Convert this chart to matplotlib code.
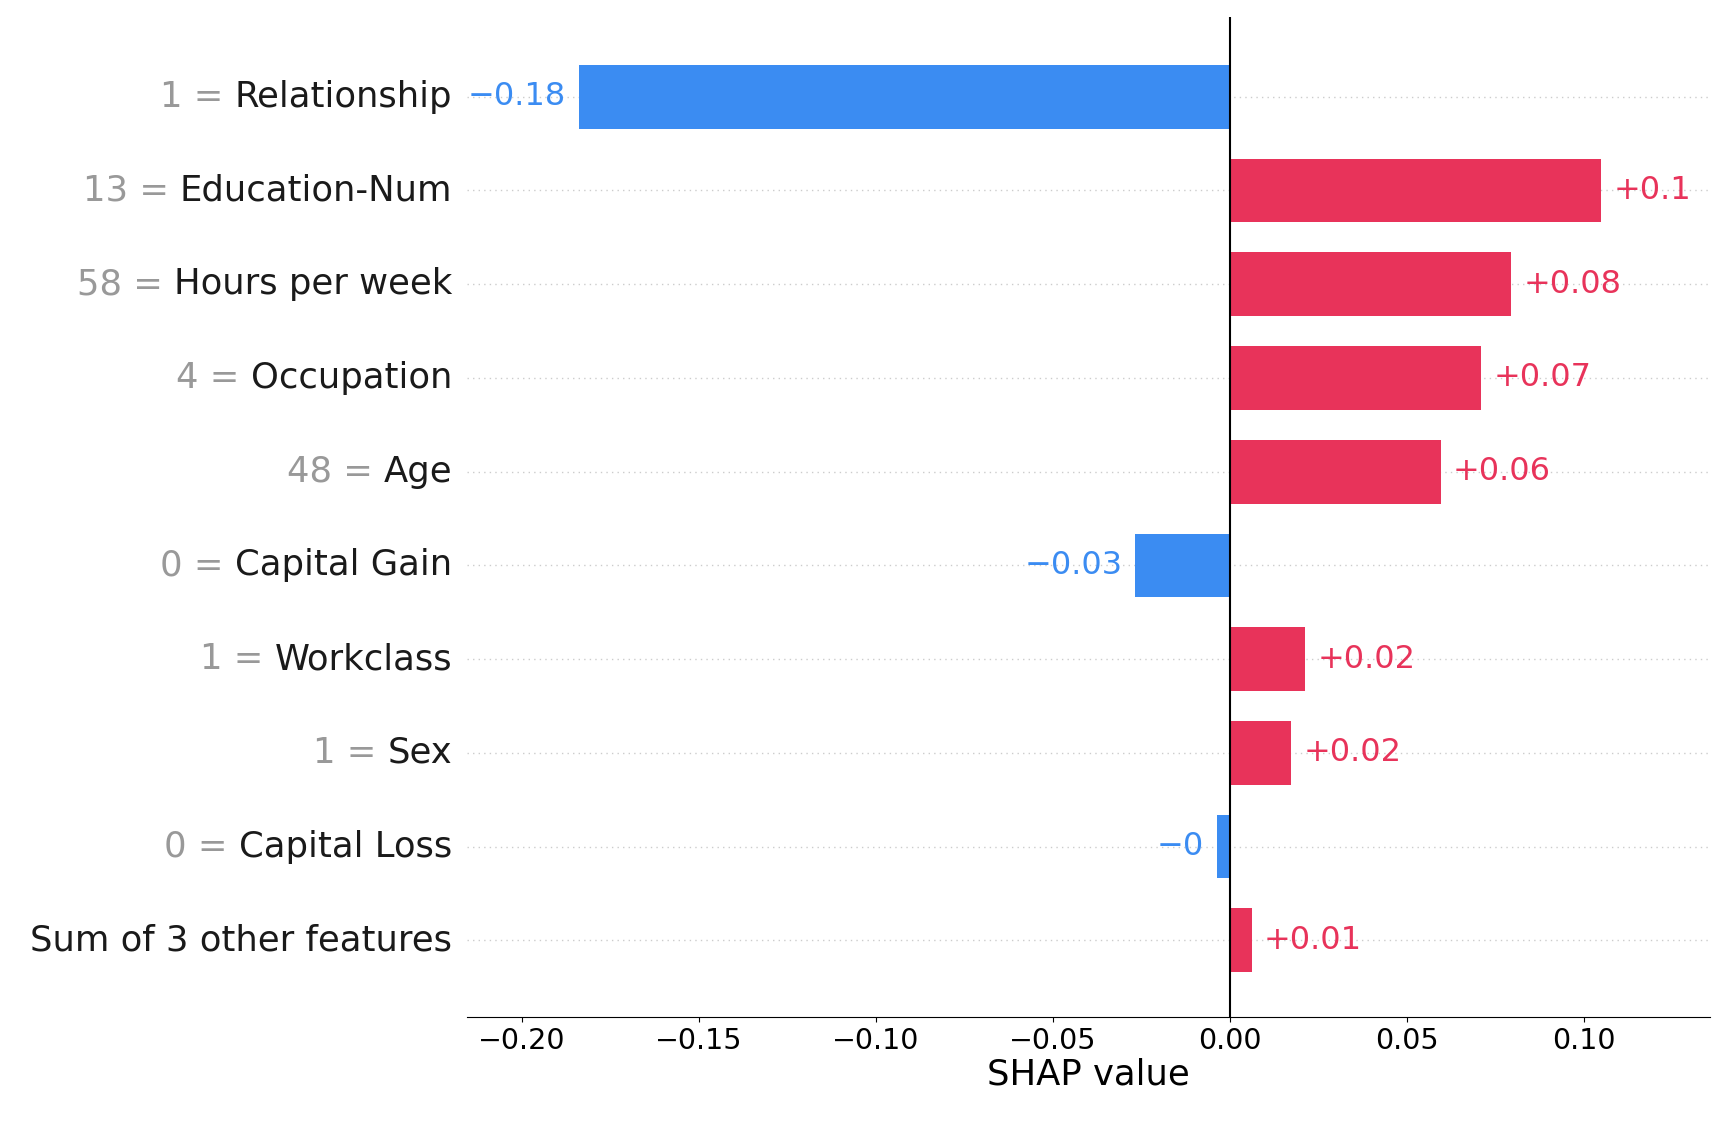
import matplotlib.pyplot as plt
import numpy as np
from matplotlib.transforms import blended_transform_factory, offset_copy

names = ["Relationship", "Education-Num", "Hours per week", "Occupation", "Age",
         "Capital Gain", "Workclass", "Sex", "Capital Loss", "Sum of 3 other features"]
feat_vals = ["1", "13", "58", "4", "48", "0", "1", "1", "0", ""]
shap_vals = [-0.184, 0.105, 0.0795, 0.071, 0.0596, -0.0267, 0.0214, 0.0174, -0.0037, 0.0062]
val_labels = ["\u22120.18", "+0.1", "+0.08", "+0.07", "+0.06", "\u22120.03", "+0.02", "+0.02", "\u22120", "+0.01"]

blue = "#3b8cf2"
red = "#e8335a"

fig = plt.figure(figsize=(17.24, 11.34), dpi=100)
ax = fig.add_axes([0.271, 0.103, 0.721, 0.882])
y = np.arange(len(names))
colors = [red if v > 0 else blue for v in shap_vals]
ax.barh(y, shap_vals, height=0.68, color=colors)
for yi in y:
    ax.axhline(yi, color="#cccccc", lw=1, ls=(0, (1, 3)), zorder=-1)
ax.axvline(0, color="black", lw=1.5)
ax.set_ylim(len(names) - 1 + 0.82, -0.85)
ax.set_xlim(-0.2155, 0.1358)

for yi, v, lab in zip(y, shap_vals, val_labels):
    off = 0.0035
    if v > 0:
        ax.text(v + off, yi, lab, color=red, ha="left", va="center", fontsize=23)
    else:
        ax.text(v - off, yi, lab, color=blue, ha="right", va="center", fontsize=23)

ax.set_yticks([])
for s in ["left", "right", "top"]:
    ax.spines[s].set_visible(False)
ax.tick_params(axis="x", labelsize=20.5)
ax.set_xticks([-0.2, -0.15, -0.1, -0.05, 0.0, 0.05, 0.1])
ax.set_xticklabels(["\u22120.20", "\u22120.15", "\u22120.10", "\u22120.05", "0.00", "0.05", "0.10"])
ax.set_xlabel("SHAP value", fontsize=25.5, labelpad=2)

# y labels: gray value part then black name
fig.canvas.draw()
r = fig.canvas.get_renderer()
tr = blended_transform_factory(ax.transAxes, ax.transData)
for yi, n, fv in zip(y, names, feat_vals):
    t = ax.text(-0.012, yi, n, ha="right", va="center", fontsize=25.5, color="#1a1a1a", transform=tr)
    if fv:
        w = t.get_window_extent(r).width
        tr2 = offset_copy(tr, fig=fig, x=-w * 72 / fig.dpi, y=0, units="points")
        ax.text(-0.012, yi, fv + " = ", ha="right", va="center", fontsize=25.5, color="#999999", transform=tr2)

fig.savefig("out.png")
